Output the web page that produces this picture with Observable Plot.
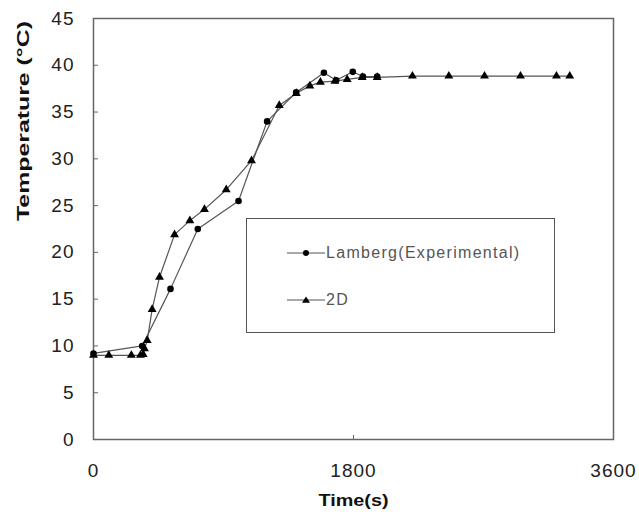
<!DOCTYPE html>
<html>
<head>
<meta charset="utf-8">
<script src="https://cdn.jsdelivr.net/npm/d3@7"></script>
<script src="https://cdn.jsdelivr.net/npm/@observablehq/plot@0.6"></script>
<style>
  html, body { margin: 0; padding: 0; background: #fff; }
  #wrap { position: relative; width: 639px; height: 519px; font-family: "Liberation Sans", Arial, sans-serif; }
  #legend { position: absolute; left: 246px; top: 218px; width: 307px; height: 113px; border: 1px solid #555; background: #fff; font-size: 16px; letter-spacing: 1.3px; color: #555; }
  .item { position: absolute; left: 40px; display: flex; align-items: center; }
  .item svg { margin-right: 1px; }
</style>
</head>
<body>
<div id="wrap"></div>
<script>
// Data
const expTime = [0, 337, 533, 722, 1004, 1202, 1403, 1595, 1680, 1795, 1865, 1964];
const expTemp = [9.2, 10.0, 16.1, 22.5, 25.5, 34.0, 37.1, 39.2, 38.4, 39.3, 38.8, 38.8];

const simTime = [0, 106, 262, 325, 344, 353, 372, 406, 457, 561, 667, 768, 919, 1094, 1286, 1404, 1498, 1571, 1671, 1756, 1860, 1964, 2208, 2460, 2707, 2956, 3205, 3297];
const simTemp = [9.0, 9.0, 9.0, 9.0, 9.1, 9.7, 10.6, 13.9, 17.35, 21.9, 23.4, 24.6, 26.7, 29.8, 35.7, 37.0, 37.8, 38.2, 38.3, 38.5, 38.7, 38.7, 38.85, 38.85, 38.85, 38.85, 38.85, 38.85];

const seriesNames = ["Lamberg(Experimental)", "2D"];
const xTickLabels = [0, 1800, 3600];
const yTicks = [0, 5, 10, 15, 20, 25, 30, 35, 40, 45];

const exp = expTime.map((t, i) => ({t, v: expTemp[i]}));
const sim = simTime.map((t, i) => ({t, v: simTemp[i]}));

const lineColor = "#555";
const font = "Liberation Sans, Arial, sans-serif";

const chart = Plot.plot({
  width: 639,
  height: 519,
  marginLeft: 93,
  marginRight: 26,
  marginTop: 18,
  marginBottom: 80,
  style: {fontFamily: font, background: "#fff", color: "#000"},
  x: {domain: [0, 3600]},
  y: {domain: [0, 45]},
  marks: [
    Plot.frame({stroke: "#666", strokeWidth: 1.5}),
    Plot.axisY({ticks: yTicks, tickSize: -5, tickPadding: 24, stroke: "#666", fontSize: 19, fill: "#222", label: null, tickFormat: d => String(d)}),
    Plot.axisX({ticks: [1800], tickSize: -4, stroke: "#666", text: null, label: null}),
    Plot.axisX({ticks: xTickLabels, tickSize: 0, tickPadding: 24, fontSize: 19, fill: "#222", label: null, tickFormat: d => String(d)}),
    Plot.line(exp, {x: "t", y: "v", stroke: lineColor, strokeWidth: 1.2}),
    Plot.line(sim, {x: "t", y: "v", stroke: lineColor, strokeWidth: 1.2}),
    Plot.dot(exp, {x: "t", y: "v", r: 3.3, fill: "#000", symbol: "circle"}),
    Plot.dot(sim, {x: "t", y: "v", r: 3.3, fill: "#000", symbol: "triangle"}),
    Plot.text(["Time(s)"], {frameAnchor: "bottom", dy: 66, fontSize: 17, fontWeight: "bold", fill: "#111"}),
    Plot.text(["Temperature (°C)"], {frameAnchor: "left", dx: -70, dy: -8, rotate: -90, fontSize: 17, fontWeight: "bold", fill: "#111"})
  ]
});

const wrap = document.getElementById("wrap");
wrap.appendChild(chart);

// stretch text horizontally like the reference's (wider glyph spacing)
d3.select(chart).selectAll('g[aria-label="y-axis tick label"] text, g[aria-label="x-axis tick label"] text')
  .style("letter-spacing", "1px");
d3.select(chart).selectAll("text").filter(function() { return this.textContent === "Temperature (°C)"; })
  .attr("textLength", 200).attr("lengthAdjust", "spacingAndGlyphs");
d3.select(chart).selectAll("text").filter(function() { return this.textContent === "Time(s)"; })
  .attr("textLength", 70).attr("lengthAdjust", "spacingAndGlyphs");

const legend = document.createElement("div");
legend.id = "legend";
const symbols = [
  '<circle cx="19" cy="6" r="3" fill="#000"/>',
  '<path d="M19,2.5 L23,8.8 L15,8.8 Z" fill="#000"/>'
];
const tops = [25, 72];
seriesNames.forEach((name, i) => {
  const item = document.createElement("div");
  item.className = "item";
  item.style.top = tops[i] + "px";
  item.innerHTML = `<svg width="38" height="12"><line x1="0" y1="6" x2="38" y2="6" stroke="${lineColor}" stroke-width="1.2"/>${symbols[i]}</svg><span>${name}</span>`;
  legend.appendChild(item);
});
wrap.appendChild(legend);
</script>
</body>
</html>
